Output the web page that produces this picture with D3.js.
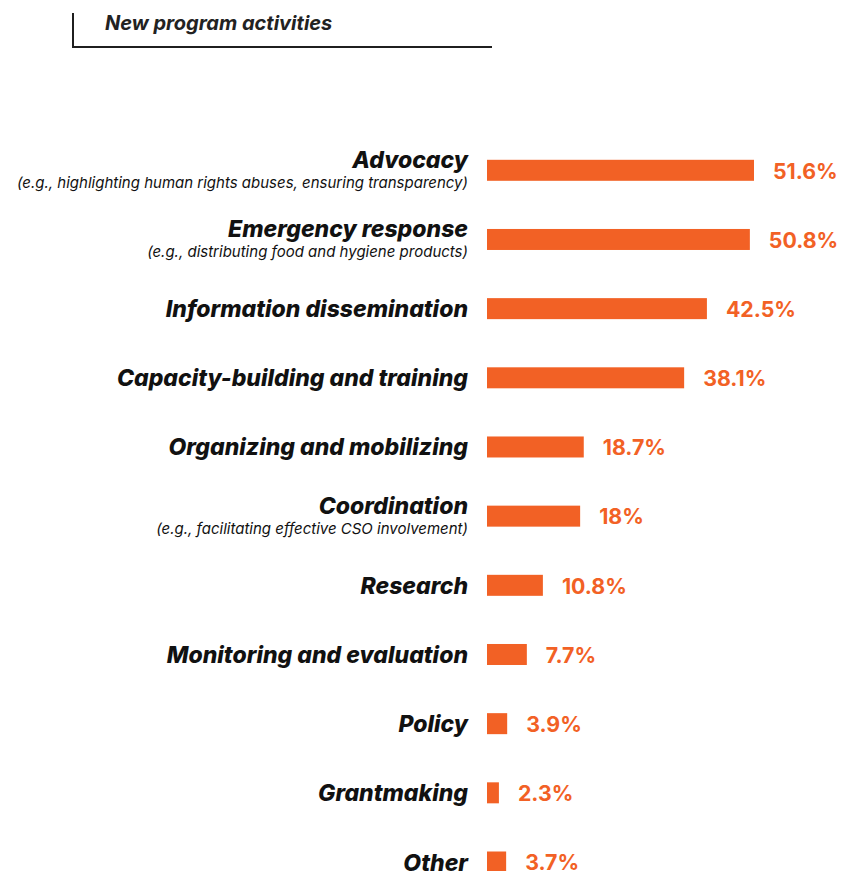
<!DOCTYPE html>
<html>
<head>
<meta charset="utf-8">
<script src="https://cdn.jsdelivr.net/npm/d3@7"></script>
<style>
  html, body { margin: 0; padding: 0; background: #fff; }
  svg { display: block; }
</style>
</head>
<body>
<svg id="chart" width="858" height="871"></svg>
<script>
const categories = [
  "Advocacy",
  "Emergency response",
  "Information dissemination",
  "Capacity-building and training",
  "Organizing and mobilizing",
  "Coordination",
  "Research",
  "Monitoring and evaluation",
  "Policy",
  "Grantmaking",
  "Other"
];
const subLabels = [
  "(e.g., highlighting human rights abuses, ensuring transparency)",
  "(e.g., distributing food and hygiene products)",
  "", "", "",
  "(e.g., facilitating effective CSO involvement)",
  "", "", "", "", ""
];
const values = [51.6, 50.8, 42.5, 38.1, 18.7, 18, 10.8, 7.7, 3.9, 2.3, 3.7];
const valueLabels = ["51.6%", "50.8%", "42.5%", "38.1%", "18.7%", "18%", "10.8%", "7.7%", "3.9%", "2.3%", "3.7%"];
const title = "New program activities";

const orange = "#F26125";
const dark = "#1f1f1f";
const font = "Inter, 'Open Sans', sans-serif";

const svg = d3.select("#chart");

// Title block
svg.append("line").attr("x1", 73).attr("x2", 73).attr("y1", 13).attr("y2", 48)
  .attr("stroke", dark).attr("stroke-width", 2);
svg.append("line").attr("x1", 72).attr("x2", 492).attr("y1", 47).attr("y2", 47)
  .attr("stroke", dark).attr("stroke-width", 2);
svg.append("text").attr("x", 105).attr("y", 30)
  .attr("font-family", font).attr("font-weight", 700).attr("font-style", "italic")
  .attr("font-size", 20).attr("fill", "#222").text(title);

const x0 = 487;
const x = d3.scaleLinear().domain([0, 51.6]).range([x0, 754]);
const y = d3.scalePoint().domain(categories).range([170.3, 862]);

const bh = 21;
const rows = svg.append("g").selectAll("g").data(categories).join("g")
  .attr("transform", d => `translate(0, ${y(d)})`);

rows.append("rect")
  .attr("x", x0)
  .attr("y", -bh / 2)
  .attr("height", bh)
  .attr("width", (d, i) => x(values[i]) - x0)
  .attr("fill", orange);

rows.append("text")
  .attr("x", (d, i) => x(values[i]) + 19)
  .attr("y", 8.3)
  .attr("font-family", font).attr("font-weight", 700)
  .attr("font-size", 21.3).attr("fill", orange)
  .text((d, i) => valueLabels[i]);

rows.append("text")
  .attr("x", 468)
  .attr("y", (d, i) => subLabels[i] ? -2 : 8.5)
  .attr("text-anchor", "end")
  .attr("font-family", font).attr("font-weight", 800).attr("font-style", "italic")
  .attr("font-size", 23).attr("fill", "#111")
  .text(d => d);

rows.append("text")
  .attr("x", 468)
  .attr("y", 18)
  .attr("text-anchor", "end")
  .attr("font-family", font).attr("font-style", "italic")
  .attr("font-size", 15).attr("fill", "#111")
  .text((d, i) => subLabels[i]);
</script>
</body>
</html>
